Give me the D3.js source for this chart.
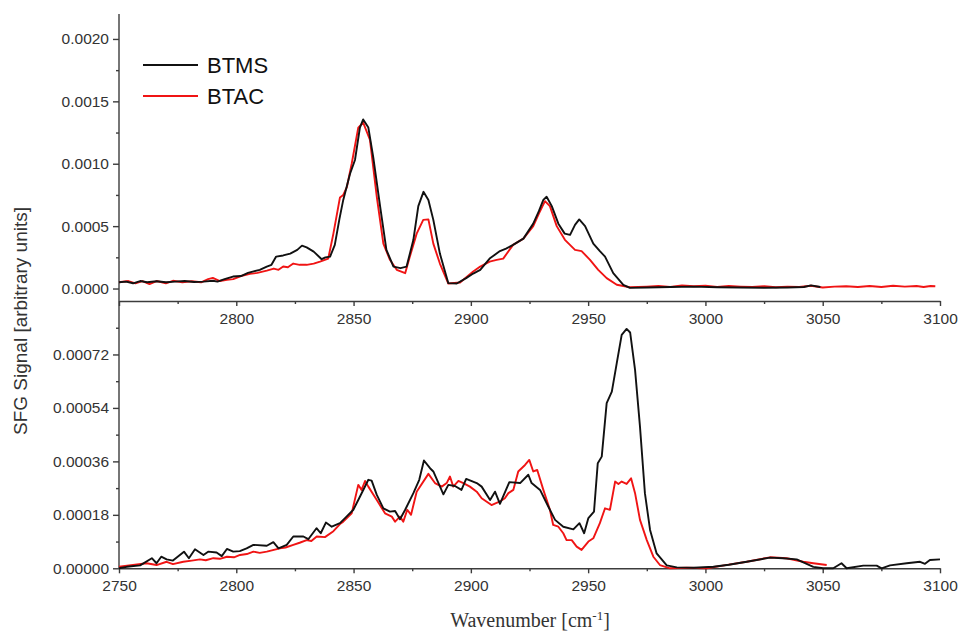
<!DOCTYPE html>
<html>
<head>
<meta charset="utf-8">
<script src="https://cdn.jsdelivr.net/npm/d3@7"></script>
<style>
  html, body { margin: 0; padding: 0; background: #fff; }
  svg { display: block; }
  .tick text { font-family: "Liberation Sans", Arial, sans-serif; font-size: 15.5px; fill: #333; }
  .domain, .tick line { stroke: #3c3c3c; stroke-width: 1.4px; }
</style>
</head>
<body>
<svg id="chart" width="961" height="633"></svg>
<script>
// Wavenumber range shared by both panels
const xDomain = [2750, 3100];
const xMajorTop = [2750, 2800, 2850, 2900, 2950, 3000, 3050, 3100];
const xMajorTopLabels = ["", "2800", "2850", "2900", "2950", "3000", "3050", "3100"];
const xMajorBottom = [2750, 2800, 2850, 2900, 2950, 3000, 3050, 3100];
const xMinor = [2775, 2825, 2875, 2925, 2975, 3025, 3075];

// Upper panel: y ticks
const yTopDomain = [-0.0001, 0.0022];
const yTopMajor = [0, 0.0005, 0.0010, 0.0015, 0.0020];
const yTopMinor = [0.00025, 0.00075, 0.00125, 0.00175];

// Lower panel: y ticks
const yBotDomain = [0, 0.0009];
const yBotMajor = [0, 0.00018, 0.00036, 0.00054, 0.00072];
const yBotMinor = [0.00009, 0.00027, 0.00045, 0.00063, 0.00081];

const seriesNames = ["BTMS", "BTAC"];
const seriesColors = ["#111111", "#f01414"];

// Upper panel spectra: [wavenumber, SFG signal]
const topBTMS = [[2750,0.000050],[2753,0.000055],[2756,0.000042],[2759,0.000060],[2762,0.000050],[2766,0.000058],[2770,0.000050],[2774,0.000055],[2778,0.000060],[2782,0.000052],[2786,0.000055],[2790,0.000062],[2792,0.000055],[2795,0.000075],[2798.6,0.000096],[2802,0.000100],[2805,0.000125],[2807,0.000136],[2810,0.000150],[2813,0.000176],[2815,0.000190],[2817,0.000256],[2820,0.000265],[2823,0.000280],[2826,0.000310],[2828,0.000344],[2830,0.000330],[2833,0.000296],[2836.4,0.000235],[2838,0.000250],[2840,0.000256],[2842,0.000350],[2844,0.000560],[2845.6,0.000710],[2848.5,0.000920],[2850.6,0.001030],[2852.7,0.001290],[2854.1,0.001355],[2856.3,0.001290],[2858.4,0.001050],[2861.3,0.000660],[2864,0.000310],[2867,0.000176],[2870,0.000163],[2872.6,0.000176],[2875.5,0.000390],[2877.6,0.000660],[2879.8,0.000775],[2881.9,0.000710],[2884,0.000550],[2886.8,0.000280],[2890.4,0.000043],[2894,0.000040],[2898,0.000083],[2901,0.000120],[2904,0.000150],[2908,0.000240],[2912.4,0.000300],[2915,0.000320],[2918,0.000350],[2922.4,0.000400],[2926.6,0.000520],[2929,0.000620],[2930.9,0.000710],[2932.3,0.000735],[2934.5,0.000660],[2937.3,0.000520],[2940,0.000440],[2942.3,0.000430],[2944.4,0.000510],[2946.2,0.000554],[2948.7,0.000500],[2952.2,0.000360],[2955,0.000300],[2957.2,0.000256],[2960.7,0.000123],[2965,0.000030],[2967.8,0.000005],[2975,0.000008],[2985,0.000012],[2995,0.000015],[3005,0.000010],[3015,0.000008],[3025,0.000006],[3035,0.000008],[3042,0.000012],[3045,0.000025],[3049,0.000012]];

const topBTAC = [[2750,0.000050],[2754,0.000060],[2757,0.000042],[2760,0.000060],[2763,0.000035],[2766,0.000060],[2770,0.000042],[2773,0.000062],[2777,0.000050],[2781,0.000058],[2785,0.000050],[2788,0.000075],[2790,0.000085],[2793,0.000060],[2796,0.000070],[2798.7,0.000075],[2802,0.000100],[2805.8,0.000117],[2809,0.000125],[2813,0.000144],[2816,0.000160],[2818,0.000150],[2820,0.000176],[2822,0.000170],[2824.3,0.000200],[2827,0.000190],[2830,0.000190],[2833,0.000200],[2835.7,0.000216],[2839.2,0.000240],[2841.4,0.000440],[2844.2,0.000730],[2845.6,0.000750],[2847.1,0.000810],[2849.2,0.001000],[2852,0.001290],[2854.1,0.001330],[2857,0.001190],[2859.9,0.000735],[2862.7,0.000360],[2865.5,0.000230],[2868.4,0.000150],[2872,0.000123],[2874,0.000256],[2876.9,0.000440],[2879.7,0.000550],[2881.9,0.000554],[2884,0.000360],[2886.8,0.000200],[2890.4,0.000040],[2895.4,0.000048],[2901,0.000136],[2904,0.000176],[2908,0.000216],[2911,0.000230],[2913.8,0.000240],[2918,0.000350],[2922.4,0.000400],[2926.6,0.000500],[2929,0.000600],[2931.6,0.000700],[2933.7,0.000660],[2936.6,0.000500],[2940.1,0.000390],[2944.4,0.000310],[2947.2,0.000300],[2950.8,0.000230],[2954.3,0.000150],[2957.9,0.000083],[2962.2,0.000030],[2967.8,0.000010],[2975,0.000015],[2980,0.000020],[2985,0.000012],[2990,0.000025],[2995,0.000018],[3000,0.000022],[3005,0.000012],[3010,0.000020],[3015,0.000015],[3020,0.000012],[3025,0.000018],[3030,0.000010],[3035,0.000015],[3040,0.000012],[3045,0.000022],[3050,0.000008],[3055,0.000015],[3060,0.000018],[3065,0.000012],[3070,0.000020],[3075,0.000012],[3080,0.000022],[3085,0.000015],[3090,0.000020],[3093,0.000012],[3096,0.000020],[3098,0.000018]];

// Lower panel spectra: [wavenumber, SFG signal]
const botBTMS = [[2750,0.000000],[2753.3,0.000005],[2759,0.000010],[2764,0.000034],[2766,0.000017],[2768,0.000039],[2770.3,0.000030],[2773,0.000026],[2777.7,0.000056],[2779.8,0.000034],[2782.4,0.000064],[2786,0.000045],[2788,0.000056],[2791.6,0.000053],[2793.8,0.000041],[2796,0.000065],[2798.7,0.000056],[2801.5,0.000058],[2804.4,0.000067],[2807.3,0.000079],[2813,0.000076],[2815.8,0.000088],[2818,0.000067],[2821.5,0.000079],[2824.3,0.000107],[2828.6,0.000107],[2830.7,0.000098],[2834.2,0.000135],[2836,0.000118],[2838.2,0.000154],[2840.7,0.000140],[2844.2,0.000152],[2847,0.000174],[2849.9,0.000197],[2852.7,0.000241],[2856.3,0.000298],[2857.7,0.000295],[2859.9,0.000247],[2862.7,0.000202],[2865.5,0.000191],[2867.7,0.000193],[2869.8,0.000165],[2872,0.000197],[2875.5,0.000253],[2878,0.000298],[2880,0.000363],[2882.6,0.000337],[2884,0.000326],[2886.2,0.000287],[2888.3,0.000249],[2890.4,0.000281],[2893.2,0.000277],[2896,0.000264],[2898,0.000301],[2902.5,0.000287],[2904.6,0.000275],[2908.2,0.000230],[2910.3,0.000258],[2912.4,0.000217],[2916.4,0.000290],[2921,0.000287],[2924.5,0.000315],[2925.9,0.000287],[2929.5,0.000264],[2933,0.000208],[2935.9,0.000163],[2939.4,0.000140],[2943.7,0.000131],[2946.3,0.000152],[2948.3,0.000118],[2950.1,0.000169],[2952.5,0.000191],[2954.1,0.000354],[2955.8,0.000376],[2957.9,0.000556],[2960.1,0.000595],[2962.2,0.000691],[2964.3,0.000786],[2966.4,0.000806],[2967.9,0.000794],[2970,0.000668],[2972.1,0.000477],[2974.2,0.000253],[2976.4,0.000129],[2979.2,0.000050],[2983.5,0.000010],[2987.8,0.000003],[2995,0.000002],[3003.4,0.000005],[3010,0.000012],[3017.6,0.000022],[3027.5,0.000036],[3033,0.000034],[3038.9,0.000030],[3046,0.000005],[3050.2,0.000000],[3054.5,0.000000],[3058,0.000017],[3060.2,0.000000],[3067.3,0.000009],[3073,0.000009],[3075.1,0.000000],[3078.7,0.000010],[3085.8,0.000017],[3091.5,0.000022],[3093.6,0.000015],[3095.7,0.000028],[3100,0.000030]];

const botBTAC = [[2750,0.000005],[2756,0.000011],[2761.8,0.000017],[2766,0.000011],[2770.3,0.000022],[2773,0.000014],[2777.4,0.000022],[2781,0.000026],[2784.5,0.000030],[2787,0.000027],[2790.2,0.000034],[2793,0.000032],[2796,0.000039],[2799,0.000037],[2801.6,0.000045],[2804.5,0.000048],[2807.3,0.000056],[2810,0.000052],[2813,0.000056],[2816,0.000062],[2818.6,0.000067],[2821,0.000070],[2824.3,0.000079],[2827,0.000086],[2830,0.000095],[2832,0.000092],[2834.3,0.000107],[2837.8,0.000105],[2841.4,0.000125],[2844.2,0.000149],[2845.6,0.000157],[2849.2,0.000185],[2852,0.000281],[2853.4,0.000264],[2854.9,0.000294],[2856.3,0.000275],[2859.9,0.000230],[2863.4,0.000185],[2866.3,0.000174],[2867.7,0.000157],[2869.8,0.000174],[2871.2,0.000157],[2872.9,0.000197],[2874.5,0.000180],[2876.9,0.000258],[2881.9,0.000318],[2884.7,0.000287],[2887.6,0.000275],[2889.7,0.000287],[2891.1,0.000309],[2892.5,0.000275],[2894.7,0.000294],[2896.8,0.000287],[2899.6,0.000275],[2902.5,0.000258],[2904.6,0.000236],[2908.8,0.000213],[2912.4,0.000225],[2914.5,0.000236],[2916,0.000253],[2918.1,0.000264],[2920.2,0.000326],[2923.1,0.000348],[2924.9,0.000365],[2926.6,0.000326],[2928.3,0.000331],[2930.9,0.000264],[2933.7,0.000197],[2935.1,0.000146],[2937.3,0.000140],[2939.4,0.000118],[2940.8,0.000095],[2943,0.000095],[2945.1,0.000073],[2947.2,0.000062],[2950.1,0.000090],[2952.2,0.000101],[2955,0.000152],[2957.2,0.000202],[2959.3,0.000197],[2961.5,0.000292],[2962.9,0.000284],[2964.3,0.000292],[2966.4,0.000284],[2968.3,0.000303],[2970,0.000253],[2972.1,0.000163],[2975,0.000095],[2977.8,0.000039],[2980.6,0.000011],[2984.9,0.000000],[2992,0.000002],[3000.5,0.000000],[3008,0.000010],[3017.6,0.000022],[3027.5,0.000037],[3034.6,0.000034],[3041.7,0.000022],[3046,0.000017],[3051.7,0.000011]];

const svg = d3.select("#chart");

// Plot geometry
const left = 119, right = 940;
const topPanel = { y0: 14, y1: 301 };
const botPanel = { y0: 301, y1: 568.3 };

const x = d3.scaleLinear().domain(xDomain).range([left, right]);
const yTop = d3.scaleLinear().domain(yTopDomain).range([topPanel.y1, topPanel.y0]);
const yBot = d3.scaleLinear().domain(yBotDomain).range([botPanel.y1, botPanel.y0]);

function drawPanel(y, seriesList, yMajor, yMinor, fmt, xTicks, xLabels) {
  const [yb, yt] = y.range();

  // y axis: major ticks with labels, then minor ticks
  const gy = svg.append("g").attr("transform", `translate(${left},0)`);
  gy.call(d3.axisLeft(y).tickValues(yMajor).tickFormat(fmt).tickSize(6).tickSizeOuter(0).tickPadding(4));
  gy.select(".domain").attr("d", `M0,${yb}V${yt}`);
  svg.append("g").attr("transform", `translate(${left},0)`)
    .call(d3.axisLeft(y).tickValues(yMinor).tickFormat("").tickSize(3).tickSizeOuter(0))
    .select(".domain").remove();

  // x axis
  const gx = svg.append("g").attr("transform", `translate(0,${yb})`);
  gx.call(d3.axisBottom(x).tickValues(xTicks)
    .tickFormat((d, i) => xLabels[i]).tickSize(5).tickSizeOuter(0).tickPadding(7));
  svg.append("g").attr("transform", `translate(0,${yb})`)
    .call(d3.axisBottom(x).tickValues(xMinor).tickFormat("").tickSize(3).tickSizeOuter(0))
    .select(".domain").remove();

  const line = d3.line().x(d => x(d[0])).y(d => y(d[1])).curve(d3.curveLinear);
  seriesList.forEach(s => {
    svg.append("path")
      .datum(s.data)
      .attr("fill", "none")
      .attr("stroke", s.color)
      .attr("stroke-width", 1.9)
      .attr("stroke-linejoin", "round")
      .attr("d", line);
  });
}

// Red drawn first so the black trace sits on top
drawPanel(yTop,
  [{ data: topBTAC, color: seriesColors[1] }, { data: topBTMS, color: seriesColors[0] }],
  yTopMajor, yTopMinor, d3.format(".4f"), xMajorTop, xMajorTopLabels);

drawPanel(yBot,
  [{ data: botBTAC, color: seriesColors[1] }, { data: botBTMS, color: seriesColors[0] }],
  yBotMajor, yBotMinor, d3.format(".5f"), xMajorBottom, xMajorBottom.map(String));

// Legend
const legend = svg.append("g").attr("transform", "translate(143,65)");
seriesNames.forEach((name, i) => {
  const g = legend.append("g").attr("transform", `translate(0,${i * 31})`);
  g.append("line").attr("x1", 0).attr("x2", 55).attr("y1", 0).attr("y2", 0)
    .attr("stroke", seriesColors[i]).attr("stroke-width", 2);
  g.append("text").attr("x", 64).attr("y", 8)
    .attr("font-family", "Liberation Sans, Arial, sans-serif")
    .attr("font-size", 22).attr("fill", "#111").text(name);
});

// Axis titles
svg.append("text")
  .attr("transform", "translate(27,321) rotate(-90)")
  .attr("text-anchor", "middle")
  .attr("font-family", "Liberation Sans, Arial, sans-serif")
  .attr("font-size", 19).attr("fill", "#333")
  .text("SFG Signal [arbitrary units]");

const xt = svg.append("text")
  .attr("x", 530).attr("y", 627)
  .attr("text-anchor", "middle")
  .attr("font-family", "Liberation Serif, 'DejaVu Serif', serif")
  .attr("font-size", 20).attr("fill", "#333");
xt.append("tspan").text("Wavenumber [cm");
xt.append("tspan").attr("dy", -7).attr("font-size", 13).text("-1");
xt.append("tspan").attr("dy", 7).text("]");
</script>
</body>
</html>
